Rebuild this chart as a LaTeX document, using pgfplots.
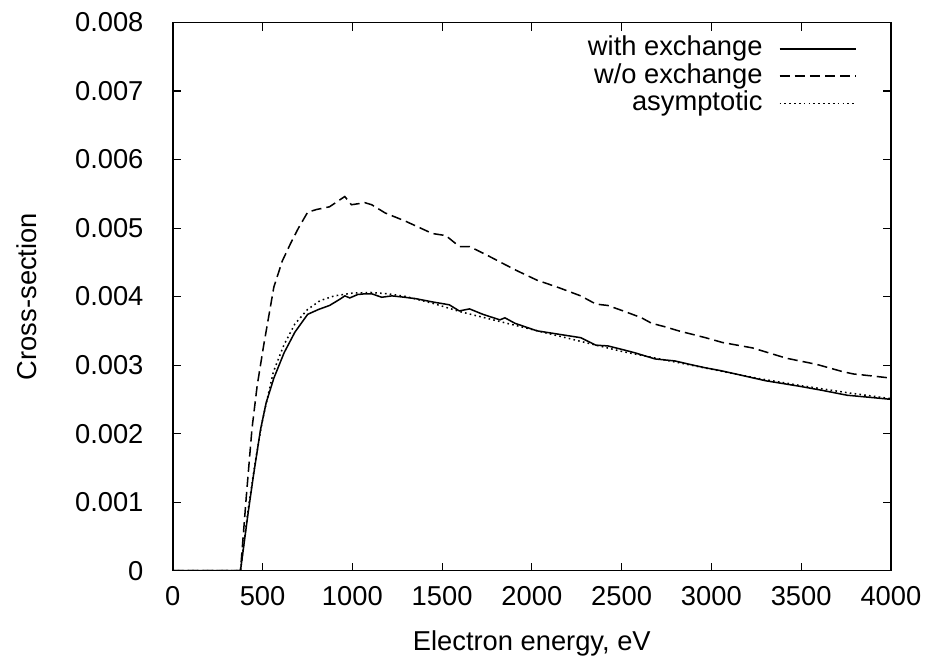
\documentclass[border=0pt]{standalone}
\usepackage{pgfplots}
\pgfplotsset{compat=1.18}
\usepackage{fontspec}
\setmainfont{Liberation Sans}

\begin{document}
\begin{tikzpicture}
\begin{axis}[
  width=355pt, height=271pt, scale only axis,
  font=\fontsize{13.5}{16}\selectfont,
  xmin=0, xmax=4000, ymin=0, ymax=0.008,
  xtick={0,500,...,4000},
  ytick={0,0.001,0.002,0.003,0.004,0.005,0.006,0.007,0.008},
  yticklabels={0,0.001,0.002,0.003,0.004,0.005,0.006,0.007,0.008},
  xticklabel style={/pgf/number format/assume math mode=true, /pgf/number format/set thousands separator={}, yshift=-4.5pt},
  yticklabel style={xshift=-11pt},
  scaled y ticks=false,
  tick align=inside, tick pos=both,
  major tick length=4pt,
  axis line style={line width=0.7pt},
  tick style={line width=0.5pt, black},
  xlabel={Electron energy, eV}, ylabel={Cross-section},
  xlabel style={yshift=-5pt},
  ylabel style={yshift=12pt},
  legend plot pos=right,
  legend cell align=right,
  legend style={draw=none, fill=none, at={(0.962,0.985)}, anchor=north east,
                row sep=0pt, font=\fontsize{13.5}{16}\selectfont,
                nodes={text height=9.5pt, text depth=2.5pt, inner ysep=0.75pt}},
  legend image code/.code={\path (0pt,0pt); \draw[#1] (6pt,0pt) -- (44pt,0pt);},
]
\addplot[black, line width=0.75pt] coordinates {
 (0,0) (377,0) (420,0.00085) (450,0.00140) (488,0.00205) (520,0.00245) (563,0.00281)
 (620,0.00318) (680,0.00348) (751,0.00374) (810,0.00381) (873,0.00387) (930,0.00396)
 (958,0.00401) (986,0.00398) (1030,0.00403) (1070,0.00404) (1108,0.00404) (1164,0.00399)
 (1221,0.00401) (1290,0.00399) (1352,0.00397) (1450,0.00392) (1540,0.00388) (1596,0.00379)
 (1653,0.00382) (1728,0.00374) (1822,0.00366) (1850,0.00369) (1906,0.00361) (2028,0.00350)
 (2150,0.00345) (2272,0.00340) (2357,0.00329) (2423,0.00328) (2500,0.00323) (2573,0.00318)
 (2686,0.00309) (2798,0.00306) (2880,0.00301) (2967,0.00296) (3050,0.00292) (3136,0.00287)
 (3220,0.00282) (3305,0.00277) (3400,0.00273) (3493,0.00269) (3620,0.00263) (3756,0.00256)
 (3880,0.00253) (4000,0.00250)
};
\addlegendentry{with exchange}
\addplot[black, line width=0.75pt, dash pattern=on 5pt off 2.5pt] coordinates {
 (0,0) (377,0) (410,0.00110) (441,0.00207) (470,0.00270) (507,0.00330) (563,0.00414)
 (610,0.00452) (657,0.00478) (700,0.00500) (751,0.00523) (800,0.00527) (873,0.00531)
 (958,0.00546) (995,0.00534) (1070,0.00537) (1108,0.00534) (1183,0.00522) (1296,0.00510)
 (1446,0.00492) (1521,0.00489) (1596,0.00473) (1653,0.00473) (1746,0.00461) (1841,0.00448)
 (1915,0.00438) (2028,0.00424) (2150,0.00413) (2272,0.00401) (2357,0.00389) (2423,0.00387)
 (2520,0.00378) (2611,0.00369) (2667,0.00361) (2740,0.00356) (2817,0.00350) (2967,0.00340)
 (3061,0.00333) (3230,0.00325) (3418,0.00310) (3587,0.00301) (3737,0.00290) (3793,0.00287)
 (3900,0.00284) (4000,0.00281)
};
\addlegendentry{w/o exchange}
\addplot[black, line width=0.75pt, dash pattern=on 0.8pt off 1.6pt] coordinates {
 (0,0) (377,0) (420,0.00090) (460,0.00160) (500,0.00220) (560,0.00290) (620,0.00330)
 (680,0.00360) (750,0.00381) (820,0.00394) (900,0.00401) (1000,0.00405) (1100,0.00406)
 (1200,0.00404) (1300,0.00400) (1450,0.00390) (1600,0.00378) (1800,0.00365) (2000,0.00352)
 (2250,0.00336) (2500,0.00320) (2750,0.00307) (3000,0.00294) (3250,0.00281) (3500,0.00270)
 (3750,0.00260) (4000,0.00251)
};
\addlegendentry{asymptotic}
\end{axis}
\path ([xshift=-5pt]current bounding box.west) ([yshift=3pt]current bounding box.north);
\end{tikzpicture}
\end{document}
